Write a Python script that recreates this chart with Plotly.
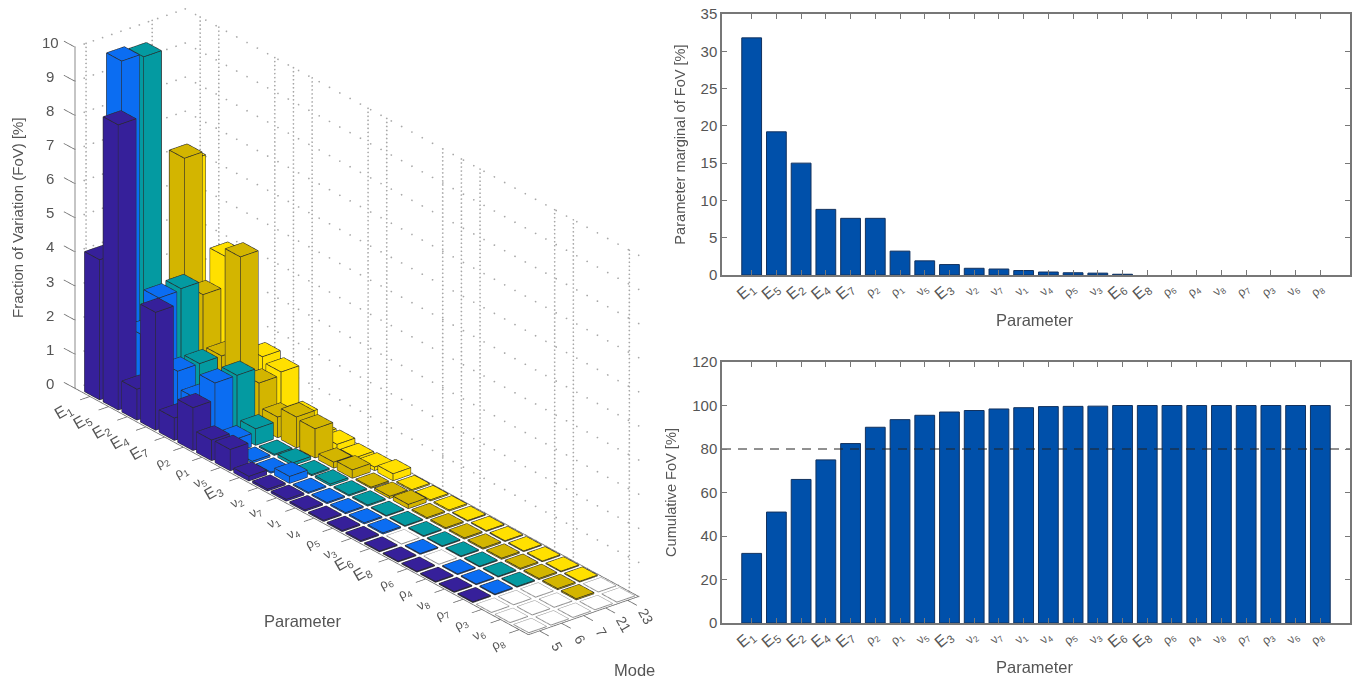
import plotly.graph_objects as go

params_plain = ["E1","E5","E2","E4","E7","r2","r1","v5","E3","v2","v7","v1","v4","r5","v3","E6","E8","r6","r4","v8","r7","r3","v6","r8"]
modes = ["5", "6", "7", "21", "23"]
N = None
fov_mode5 = [4.1,8.35,0.9,3.45,0.65,1.25,0.6,0.62,0.13,0.05,0.05,0.04,0.03,0.03,0.03,0.02,0.02,0.02,0.02,0.02,0.02,N,N,N]
fov_mode6 = [9.7,2.0,3.35,1.5,1.0,1.75,0.38,0.05,0.03,0.2,0.03,0.03,0.03,0.03,0.03,N,0.02,N,0.02,0.02,0.02,N,N,N]
fov_mode7 = [9.6,2.0,3.4,1.5,0.8,1.75,0.48,0.03,0.08,0.03,0.05,0.03,0.03,0.02,0.02,0.02,0.02,0.02,0.02,0.02,0.02,N,N,N]
fov_mode21 = [1.0,6.7,3.0,1.5,4.7,1.3,0.6,0.9,0.85,0.17,0.24,0.03,0.06,0.12,0.03,0.03,0.03,0.03,0.03,0.03,0.03,0.03,0.03,N]
fov_mode23 = [6.1,1.5,3.9,1.0,1.55,1.4,0.42,0.15,0.17,0.08,0.1,0.2,0.03,0.03,0.03,0.02,0.02,0.02,0.02,0.02,0.02,0.02,N,N]
matrix = [fov_mode5, fov_mode6, fov_mode7, fov_mode21, fov_mode23]
mode_colors = ["#36209a", "#0b6df2", "#049aa1", "#d3b500", "#ffe000"]

marginal = [31.8,19.2,15.0,8.8,7.6,7.6,3.2,1.9,1.4,0.9,0.8,0.6,0.4,0.3,0.25,0.1,0,0,0,0,0,0,0,0]
cumulative = [32,51,66,75,82.5,90,93.5,95.5,97,97.7,98.4,99,99.5,99.6,99.7,100,100,100,100,100,100,100,100,100]

GREEK = {"r": "ρ", "v": "ν", "E": "E"}
def tick_html(p, big, small):
    size = big if p[0] == "E" else small
    return '<span style="font-size:%dpx">%s<sub>%s</sub></span>' % (size, GREEK[p[0]], p[1])
labels_right = [tick_html(p, 16, 12) for p in params_plain]
labels_left = [tick_html(p, 16, 13) for p in params_plain]
positions = list(range(1, 25))

TXT = "#555555"
AX = "#777777"
FONT = "Liberation Sans, Arial, sans-serif"
BAR = "#0050aa"
BAR_EDGE = "#12325f"

W = 0.4
P0 = 0.8   # left wall sits this far before the first parameter
fig = go.Figure()

def add_box(store, m, p, h):
    y0, y1 = -p - W, -p + W
    x0, x1 = m - W, m + W
    base = len(store["x"])
    for (x, y, z) in [(x0,y0,0),(x1,y0,0),(x1,y1,0),(x0,y1,0),(x0,y0,h),(x1,y0,h),(x1,y1,h),(x0,y1,h)]:
        store["x"].append(x); store["y"].append(y); store["z"].append(z)
    faces = [(0,1,2),(0,2,3),(4,5,6),(4,6,7),(0,1,5),(0,5,4),(1,2,6),(1,6,5),(2,3,7),(2,7,6),(3,0,4),(3,4,7)]
    for a, b, c in faces:
        store["i"].append(base+a); store["j"].append(base+b); store["k"].append(base+c)

def box_edges(m, p, h):
    e = 0.004
    x0, x1 = m - W - e, m + W + e
    y0, y1 = -p - W - e, -p + W + e
    z = h + 0.004
    xs, ys, zs = [], [], []
    def seg(a, b):
        xs.extend([a[0], b[0], None]); ys.extend([a[1], b[1], None]); zs.extend([a[2], b[2], None])
    c = [(x0,y0),(x1,y0),(x1,y1),(x0,y1)]
    for i in range(4):
        a, b = c[i], c[(i+1) % 4]
        seg((a[0],a[1],z),(b[0],b[1],z))
        seg((a[0],a[1],0),(b[0],b[1],0))
        seg((a[0],a[1],0),(a[0],a[1],z))
    return xs, ys, zs

flat = dict(ambient=1, diffuse=0, specular=0, roughness=1, fresnel=0)
white = dict(x=[], y=[], z=[], i=[], j=[], k=[])
ex, ey, ez = [], [], []
wx, wy, wz = [], [], []
for m, row in enumerate(matrix):
    st = dict(x=[], y=[], z=[], i=[], j=[], k=[])
    for p, v in enumerate(row):
        if v is None:
            add_box(white, m, p, 0.01)
            a, b, c = box_edges(m, p, 0.01)
            wx += a; wy += b; wz += c
        else:
            add_box(st, m, p, v)
            a, b, c = box_edges(m, p, v)
            ex += a; ey += b; ez += c
    fig.add_trace(go.Mesh3d(**st, color=mode_colors[m], flatshading=True, lighting=flat, hoverinfo="skip", scene="scene"))
fig.add_trace(go.Mesh3d(**white, color="#ffffff", flatshading=True, lighting=flat, hoverinfo="skip", scene="scene"))
fig.add_trace(go.Scatter3d(x=ex, y=ey, z=ez, mode="lines", line=dict(color="#2a2a2a", width=1.5), hoverinfo="skip", scene="scene"))
fig.add_trace(go.Scatter3d(x=wx, y=wy, z=wz, mode="lines", line=dict(color="#8a8a8a", width=1), hoverinfo="skip", scene="scene"))

# dotted grid on the two walls, drawn as small points
grid_params = [0, 1, 4, 5, 6, 9, 10, 13, 14, 15, 19, 20, 23]
gx, gy, gz = [], [], []
def dotted(a, b, n):
    for t in range(n + 1):
        f = t / n
        gx.append(a[0] + (b[0]-a[0])*f); gy.append(a[1] + (b[1]-a[1])*f); gz.append(a[2] + (b[2]-a[2])*f)
for p in grid_params:
    dotted((4.5, -p, 0), (4.5, -p, 10), 85)
for m in [0, 3]:
    dotted((m, P0, 0), (m, P0, 10), 85)
for z in range(0, 11):
    dotted((4.5, P0, z), (4.5, -23.5, z), 44)
    dotted((-0.5, P0, z), (4.5, P0, z), 12)
fig.add_trace(go.Scatter3d(x=gx, y=gy, z=gz, mode="markers", marker=dict(color="#a8a8a8", size=1, line=dict(width=0)), hoverinfo="skip", scene="scene"))

# solid axes and ticks
ax_x, ax_y, ax_z = [], [], []
def seg3(a, b):
    ax_x.extend([a[0], b[0], None]); ax_y.extend([a[1], b[1], None]); ax_z.extend([a[2], b[2], None])
seg3((-0.5, P0, 0), (-0.5, P0, 10))
seg3((-0.5, P0, 0), (-0.5, -23.5, 0))
seg3((-0.5, -23.5, 0), (4.5, -23.5, 0))
seg3((4.5, -23.5, 0), (4.5, P0, 0))
for z in range(0, 11):
    seg3((-0.5, P0, z), (-0.5, P0 + 0.6, z))
for p in range(24):
    seg3((-0.5, -p, 0), (-0.95, -p, 0))
for m in range(5):
    seg3((m, -23.5, 0), (m, -24.0, 0))
fig.add_trace(go.Scatter3d(x=ax_x, y=ax_y, z=ax_z, mode="lines", line=dict(color="#666666", width=1.5), hoverinfo="skip", scene="scene"))

annots3d = []
for p, (lab, plain) in enumerate(zip(labels_left, params_plain)):
    annots3d.append(dict(x=-0.5, y=-p, z=0, text=lab, showarrow=False, textangle=-30,
                         xshift=-26 if plain[0] == "E" else -21, yshift=-15,
                         font=dict(size=13, color=TXT, family=FONT)))
for m, lab in enumerate(modes):
    annots3d.append(dict(x=m, y=-23.5, z=0, text=lab, showarrow=False, textangle=60, xshift=18, yshift=-16,
                         font=dict(size=14, color=TXT, family=FONT)))
for z in range(0, 11):
    annots3d.append(dict(x=-0.5, y=P0, z=z, text=str(z), showarrow=False, xshift=-25, yshift=5, xanchor="center",
                         font=dict(size=15, color=TXT, family=FONT)))

off = dict(visible=False, showgrid=False, zeroline=False, showbackground=False, showspikes=False)
d = 1.414
k = 1.125
cz = -0.079
fig.update_layout(
    scene=dict(
        domain=dict(x=[0, 714/1356], y=[0, 1]),
        xaxis=dict(range=[-1.0, 5.1], **off),
        yaxis=dict(range=[-24.1, 1.5], **off),
        zaxis=dict(range=[0, 10.3], **off),
        aspectmode="manual",
        aspectratio=dict(x=0.45*k, y=2.0*k, z=1.02*k),
        camera=dict(projection=dict(type="orthographic"), up=dict(x=0, y=0, z=1),
                    center=dict(x=0, y=0, z=cz),
                    eye=dict(x=-0.562*d, y=-0.703*d, z=0.434*d + cz)),
        annotations=annots3d,
    )
)

# right panels
edge_w = [1 if v > 0 else 0 for v in marginal]
fig.add_trace(go.Bar(x=positions, y=marginal, width=0.8, marker=dict(color=BAR, line=dict(color=BAR_EDGE, width=edge_w)), xaxis="x", yaxis="y", hoverinfo="skip"))
fig.add_trace(go.Bar(x=positions, y=cumulative, width=0.8, marker=dict(color=BAR, line=dict(color=BAR_EDGE, width=1)), xaxis="x2", yaxis="y2", hoverinfo="skip"))
fig.add_trace(go.Scatter(x=[-0.2, 25.2], y=[80, 80], mode="lines", line=dict(color="#222222", width=1, dash="9px,7px"), xaxis="x2", yaxis="y2", hoverinfo="skip"))

def xax(domain, anchor):
    return dict(domain=domain, anchor=anchor, range=[-0.2, 25.2], tickmode="array", tickvals=positions, ticktext=labels_right,
                tickangle=-40, ticks="inside", ticklen=5, tickcolor=AX, tickwidth=1, showline=True, linecolor=AX, linewidth=1.5,
                mirror="ticks", showgrid=False, zeroline=False, tickfont=dict(size=12, color=TXT, family=FONT))
def yax(domain, anchor, rng, dt, title, std):
    return dict(domain=domain, anchor=anchor, range=rng, dtick=dt, ticks="inside", ticklen=5, tickcolor=AX, tickwidth=1,
                showline=True, linecolor=AX, linewidth=1.5, mirror="ticks", showgrid=False, zeroline=False,
                tickfont=dict(size=15, color=TXT, family=FONT),
                title=dict(text=title, font=dict(size=14.6, color=TXT, family=FONT), standoff=std))

def note(x, y, text, size, angle=0):
    return dict(xref="paper", yref="paper", x=x/1356, y=1-y/680, text=text, showarrow=False, textangle=angle,
                xanchor="center", yanchor="middle", font=dict(size=size, color=TXT, family=FONT))

fig.update_layout(
    xaxis=xax([722/1356, 1350/1356], "y"),
    yaxis=yax([(680-275)/680, (680-14)/680], "x", [0, 35], 5, "Parameter marginal of FoV [%]", 11),
    xaxis2=xax([722/1356, 1350/1356], "y2"),
    yaxis2=yax([(680-623)/680, (680-362)/680], "x2", [0, 120], 20, "Cumulative FoV [%]", 12),
    width=1356, height=680, margin=dict(l=0, r=0, t=0, b=0, autoexpand=False), paper_bgcolor="white", plot_bgcolor="white",
    showlegend=False, bargap=0.2,
    annotations=[
        note(1035, 320, "Parameter", 16.5),
        note(1035, 667, "Parameter", 16.5),
        note(303, 621, "Parameter", 16.5),
        note(634, 670, "Mode", 16.5),
        note(18, 218, "Fraction of Variation (FoV) [%]", 15, -90),
    ],
)
fig.write_html("out.html", post_script="document.body.style.margin='0';", config=dict(displayModeBar=False))
